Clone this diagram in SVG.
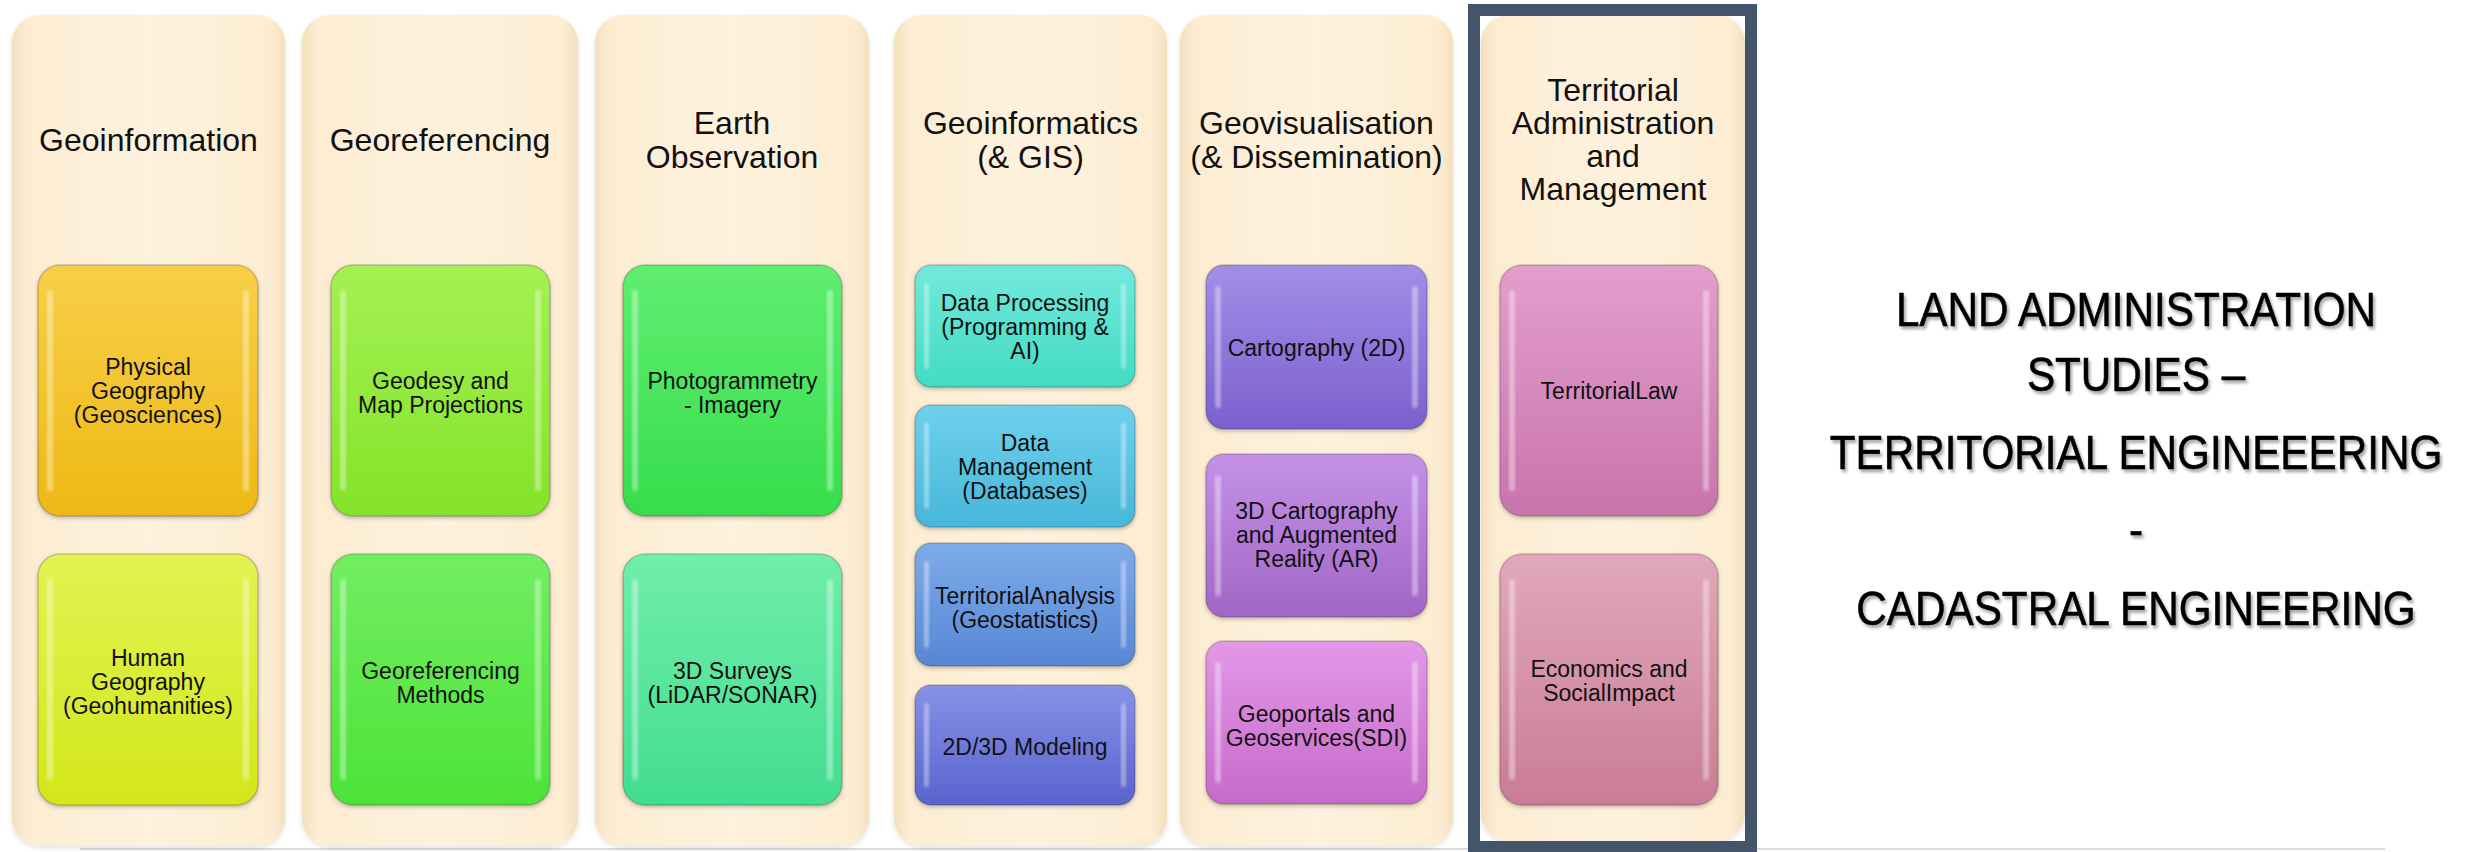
<svg xmlns="http://www.w3.org/2000/svg" width="2466" height="852" viewBox="0 0 2466 852">
<defs>
<style>
.col{fill:url(#colg);filter:url(#csh)}
.ttl{font-family:"Liberation Sans",Arial,sans-serif;font-size:32px;fill:#111;text-anchor:middle}
.lbl{font-family:"Liberation Sans",Arial,sans-serif;font-size:23px;fill:#111;text-anchor:middle}
.bx{stroke:rgba(0,0,0,0.18);stroke-width:1.5;filter:url(#bsh)}
.hl{fill:#fff;opacity:0.38;filter:url(#blur)}
.big{font-family:"Liberation Sans",Arial,sans-serif;font-size:48px;fill:#000;text-anchor:middle;stroke:#000;stroke-width:0.6}
</style>
<linearGradient id="colg" x1="0" y1="0" x2="1" y2="0">
<stop offset="0" stop-color="#F3DFBD"/><stop offset="0.05" stop-color="#FCECD2"/><stop offset="0.5" stop-color="#FEF2DE"/><stop offset="0.95" stop-color="#FCECD2"/><stop offset="1" stop-color="#F3DFBD"/>
</linearGradient>
<filter id="csh" x="-5%" y="-5%" width="110%" height="110%"><feDropShadow dx="0" dy="2" stdDeviation="2.5" flood-color="#000" flood-opacity="0.12"/></filter>
<filter id="bsh" x="-5%" y="-5%" width="110%" height="115%"><feDropShadow dx="0" dy="2" stdDeviation="2" flood-color="#000" flood-opacity="0.25"/></filter>
<filter id="blur"><feGaussianBlur stdDeviation="1.5"/></filter>
<filter id="tsh" x="-5%" y="-5%" width="110%" height="110%"><feDropShadow dx="2" dy="3" stdDeviation="1.5" flood-color="#000" flood-opacity="0.35"/></filter>
<linearGradient id="g11" x1="0" y1="0" x2="0" y2="1"><stop offset="0" stop-color="#F8CF48"/><stop offset="1" stop-color="#EEB916"/></linearGradient>
<linearGradient id="g12" x1="0" y1="0" x2="0" y2="1"><stop offset="0" stop-color="#E3F252"/><stop offset="1" stop-color="#D3E71A"/></linearGradient>
<linearGradient id="g21" x1="0" y1="0" x2="0" y2="1"><stop offset="0" stop-color="#A4F152"/><stop offset="1" stop-color="#84E328"/></linearGradient>
<linearGradient id="g22" x1="0" y1="0" x2="0" y2="1"><stop offset="0" stop-color="#72EE62"/><stop offset="1" stop-color="#4CE337"/></linearGradient>
<linearGradient id="g31" x1="0" y1="0" x2="0" y2="1"><stop offset="0" stop-color="#60EE70"/><stop offset="1" stop-color="#36DD4C"/></linearGradient>
<linearGradient id="g32" x1="0" y1="0" x2="0" y2="1"><stop offset="0" stop-color="#70EEAA"/><stop offset="1" stop-color="#42DD90"/></linearGradient>
<linearGradient id="g41" x1="0" y1="0" x2="0" y2="1"><stop offset="0" stop-color="#72E9DC"/><stop offset="1" stop-color="#42DBC4"/></linearGradient>
<linearGradient id="g42" x1="0" y1="0" x2="0" y2="1"><stop offset="0" stop-color="#6ED1EC"/><stop offset="1" stop-color="#48B6DA"/></linearGradient>
<linearGradient id="g43" x1="0" y1="0" x2="0" y2="1"><stop offset="0" stop-color="#7EACE9"/><stop offset="1" stop-color="#5886D6"/></linearGradient>
<linearGradient id="g44" x1="0" y1="0" x2="0" y2="1"><stop offset="0" stop-color="#8692E7"/><stop offset="1" stop-color="#5A63CE"/></linearGradient>
<linearGradient id="g51" x1="0" y1="0" x2="0" y2="1"><stop offset="0" stop-color="#A28EE7"/><stop offset="1" stop-color="#7C60CE"/></linearGradient>
<linearGradient id="g52" x1="0" y1="0" x2="0" y2="1"><stop offset="0" stop-color="#C492E7"/><stop offset="1" stop-color="#A266C6"/></linearGradient>
<linearGradient id="g53" x1="0" y1="0" x2="0" y2="1"><stop offset="0" stop-color="#E398E7"/><stop offset="1" stop-color="#C66ACA"/></linearGradient>
<linearGradient id="g61" x1="0" y1="0" x2="0" y2="1"><stop offset="0" stop-color="#E39ECD"/><stop offset="1" stop-color="#C874AC"/></linearGradient>
<linearGradient id="g62" x1="0" y1="0" x2="0" y2="1"><stop offset="0" stop-color="#E1A8BB"/><stop offset="1" stop-color="#CA7C96"/></linearGradient>
</defs>
<rect width="2466" height="852" fill="#ffffff"/>
<line x1="80" y1="849" x2="2385" y2="849" stroke="#D9D9E8" stroke-width="2"/>

<g id="col-geoinformation">
<rect class="col" x="12" y="15" width="273" height="831" rx="28"/>
<text class="ttl" x="148.5" y="151">Geoinformation</text>
<g id="physical-geography">
<rect class="bx" x="38" y="265" width="220" height="251" rx="22" fill="url(#g11)"/>
<rect class="hl" x="47" y="290" width="6" height="201" rx="3"/><rect class="hl" x="243" y="290" width="6" height="201" rx="3"/>
<text class="lbl" x="148"><tspan x="148" y="375">Physical</tspan><tspan x="148" y="399">Geography</tspan><tspan x="148" y="423">(Geosciences)</tspan></text>
</g>
<g id="human-geography">
<rect class="bx" x="38" y="554" width="220" height="251" rx="22" fill="url(#g12)"/>
<rect class="hl" x="47" y="579" width="6" height="201" rx="3"/><rect class="hl" x="243" y="579" width="6" height="201" rx="3"/>
<text class="lbl" x="148"><tspan x="148" y="666">Human</tspan><tspan x="148" y="690">Geography</tspan><tspan x="148" y="714">(Geohumanities)</tspan></text>
</g>
</g>

<g id="col-georeferencing">
<rect class="col" x="302" y="15" width="276" height="831" rx="28"/>
<text class="ttl" x="440" y="151">Georeferencing</text>
<g id="geodesy">
<rect class="bx" x="331" y="265" width="219" height="251" rx="22" fill="url(#g21)"/>
<rect class="hl" x="340" y="290" width="6" height="201" rx="3"/><rect class="hl" x="535" y="290" width="6" height="201" rx="3"/>
<text class="lbl"><tspan x="440.5" y="389">Geodesy and</tspan><tspan x="440.5" y="413">Map Projections</tspan></text>
</g>
<g id="georef-methods">
<rect class="bx" x="331" y="554" width="219" height="251" rx="22" fill="url(#g22)"/>
<rect class="hl" x="340" y="579" width="6" height="201" rx="3"/><rect class="hl" x="535" y="579" width="6" height="201" rx="3"/>
<text class="lbl"><tspan x="440.5" y="679">Georeferencing</tspan><tspan x="440.5" y="703">Methods</tspan></text>
</g>
</g>

<g id="col-earth-observation">
<rect class="col" x="595" y="15" width="274" height="831" rx="28"/>
<text class="ttl"><tspan x="732" y="134">Earth</tspan><tspan x="732" y="168">Observation</tspan></text>
<g id="photogrammetry">
<rect class="bx" x="623" y="265" width="219" height="251" rx="22" fill="url(#g31)"/>
<rect class="hl" x="632" y="290" width="6" height="201" rx="3"/><rect class="hl" x="827" y="290" width="6" height="201" rx="3"/>
<text class="lbl"><tspan x="732.5" y="389">Photogrammetry</tspan><tspan x="732.5" y="413">- Imagery</tspan></text>
</g>
<g id="surveys-3d">
<rect class="bx" x="623" y="554" width="219" height="251" rx="22" fill="url(#g32)"/>
<rect class="hl" x="632" y="579" width="6" height="201" rx="3"/><rect class="hl" x="827" y="579" width="6" height="201" rx="3"/>
<text class="lbl"><tspan x="732.5" y="679">3D Surveys</tspan><tspan x="732.5" y="703">(LiDAR/SONAR)</tspan></text>
</g>
</g>

<g id="col-geoinformatics">
<rect class="col" x="894" y="15" width="273" height="831" rx="28"/>
<text class="ttl"><tspan x="1030.5" y="134">Geoinformatics</tspan><tspan x="1030.5" y="168">(&amp; GIS)</tspan></text>
<g id="data-processing">
<rect class="bx" x="915" y="265" width="220" height="122" rx="16" fill="url(#g41)"/>
<rect class="hl" x="924" y="283" width="5" height="86" rx="2.5"/><rect class="hl" x="1121" y="283" width="5" height="86" rx="2.5"/>
<text class="lbl"><tspan x="1025" y="311">Data Processing</tspan><tspan x="1025" y="335">(Programming &amp;</tspan><tspan x="1025" y="359">AI)</tspan></text>
</g>
<g id="data-management">
<rect class="bx" x="915" y="405" width="220" height="122" rx="16" fill="url(#g42)"/>
<rect class="hl" x="924" y="423" width="5" height="86" rx="2.5"/><rect class="hl" x="1121" y="423" width="5" height="86" rx="2.5"/>
<text class="lbl"><tspan x="1025" y="451">Data</tspan><tspan x="1025" y="475">Management</tspan><tspan x="1025" y="499">(Databases)</tspan></text>
</g>
<g id="territorial-analysis">
<rect class="bx" x="915" y="543" width="220" height="123" rx="16" fill="url(#g43)"/>
<rect class="hl" x="924" y="561" width="5" height="87" rx="2.5"/><rect class="hl" x="1121" y="561" width="5" height="87" rx="2.5"/>
<text class="lbl"><tspan x="1025" y="604">TerritorialAnalysis</tspan><tspan x="1025" y="628">(Geostatistics)</tspan></text>
</g>
<g id="modeling">
<rect class="bx" x="915" y="685" width="220" height="120" rx="16" fill="url(#g44)"/>
<rect class="hl" x="924" y="703" width="5" height="84" rx="2.5"/><rect class="hl" x="1121" y="703" width="5" height="84" rx="2.5"/>
<text class="lbl" x="1025" y="755">2D/3D Modeling</text>
</g>
</g>

<g id="col-geovisualisation">
<rect class="col" x="1180" y="15" width="273" height="831" rx="28"/>
<text class="ttl"><tspan x="1316.5" y="134">Geovisualisation</tspan><tspan x="1316.5" y="168">(&amp; Dissemination)</tspan></text>
<g id="cartography-2d">
<rect class="bx" x="1206" y="265" width="221" height="164" rx="18" fill="url(#g51)"/>
<rect class="hl" x="1215" y="286" width="6" height="122" rx="3"/><rect class="hl" x="1412" y="286" width="6" height="122" rx="3"/>
<text class="lbl" x="1316.5" y="356">Cartography (2D)</text>
</g>
<g id="cartography-3d">
<rect class="bx" x="1206" y="454" width="221" height="163" rx="18" fill="url(#g52)"/>
<rect class="hl" x="1215" y="475" width="6" height="121" rx="3"/><rect class="hl" x="1412" y="475" width="6" height="121" rx="3"/>
<text class="lbl"><tspan x="1316.5" y="519">3D Cartography</tspan><tspan x="1316.5" y="543">and Augmented</tspan><tspan x="1316.5" y="567">Reality (AR)</tspan></text>
</g>
<g id="geoportals">
<rect class="bx" x="1206" y="641" width="221" height="163" rx="18" fill="url(#g53)"/>
<rect class="hl" x="1215" y="662" width="6" height="121" rx="3"/><rect class="hl" x="1412" y="662" width="6" height="121" rx="3"/>
<text class="lbl"><tspan x="1316.5" y="722">Geoportals and</tspan><tspan x="1316.5" y="746">Geoservices(SDI)</tspan></text>
</g>
</g>

<g id="col-territorial-admin">
<rect class="col" x="1481" y="15" width="264" height="826" rx="28"/>
<rect x="1474" y="10" width="277" height="837" fill="none" stroke="#44546A" stroke-width="12"/>
<text class="ttl"><tspan x="1613" y="101">Territorial</tspan><tspan x="1613" y="134">Administration</tspan><tspan x="1613" y="167">and</tspan><tspan x="1613" y="200">Management</tspan></text>
<g id="territorial-law">
<rect class="bx" x="1500" y="265" width="218" height="251" rx="22" fill="url(#g61)"/>
<rect class="hl" x="1509" y="290" width="6" height="201" rx="3"/><rect class="hl" x="1703" y="290" width="6" height="201" rx="3"/>
<text class="lbl" x="1609" y="399">TerritorialLaw</text>
</g>
<g id="economics">
<rect class="bx" x="1500" y="554" width="218" height="251" rx="22" fill="url(#g62)"/>
<rect class="hl" x="1509" y="579" width="6" height="201" rx="3"/><rect class="hl" x="1703" y="579" width="6" height="201" rx="3"/>
<text class="lbl"><tspan x="1609" y="677">Economics and</tspan><tspan x="1609" y="701">SocialImpact</tspan></text>
</g>
</g>

<g id="title-text" filter="url(#tsh)">
<g transform="translate(2136,0) scale(0.88,1)">
<text class="big" x="0" y="326">LAND ADMINISTRATION</text>
<text class="big" x="0" y="391">STUDIES –</text>
<text class="big" x="0" y="469">TERRITORIAL ENGINEEERING</text>
<text class="big" x="0" y="546">-</text>
<text class="big" x="0" y="625">CADASTRAL ENGINEERING</text>
</g>
</g>
<g id="connectors"></g>
</svg>
